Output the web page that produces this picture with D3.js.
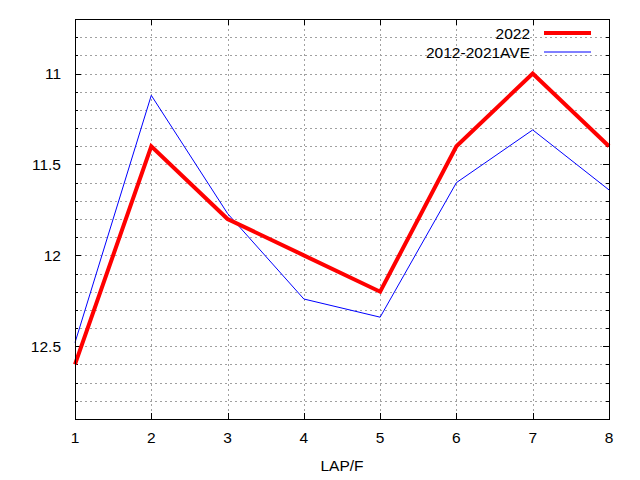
<!DOCTYPE html>
<html>
<head>
<meta charset="utf-8">
<script src="https://cdn.jsdelivr.net/npm/d3@7"></script>
<style>
  body { margin: 0; background: #fff; }
  text { font-family: "Liberation Sans", Arial, sans-serif; font-size: 15.5px; fill: #000; }
</style>
</head>
<body>
<div id="viz"></div>
<script>
// data
const laps = [1, 2, 3, 4, 5, 6, 7, 8];
const times2022 = [12.6, 11.4, 11.8, 12.0, 12.2, 11.4, 11.0, 11.4];
const timesAve = [12.48, 11.12, 11.77, 12.24, 12.34, 11.6, 11.31, 11.64];
const yTickLabels = [11, 11.5, 12, 12.5];
const seriesNames = ["2022", "2012-2021AVE"];

const W = 640, H = 480;
const margin = {top: 19, right: 31, bottom: 61, left: 75};
const width = W - margin.left - margin.right,
      height = H - margin.top - margin.bottom;

const svg = d3.select("#viz").append("svg")
  .attr("width", W).attr("height", H);
const g = svg.append("g")
  .attr("transform", "translate(" + margin.left + "," + margin.top + ")");

const x = d3.scaleLinear().domain([1, 8]).range([0, width]);
// reversed y: small values on top
const y = d3.scaleLinear().domain([10.7, 12.9]).range([0, height]);

const minorY = d3.range(108, 129).map(v => v / 10);

// grid
g.append("g").selectAll("line").data(minorY)
  .join("line")
  .attr("x1", 0).attr("x2", width)
  .attr("y1", d => Math.round(y(d)) + 0.5).attr("y2", d => Math.round(y(d)) + 0.5)
  .attr("stroke", "#a0a0a0").attr("stroke-dasharray", "2,3");
g.append("g").selectAll("line").data(laps.slice(1, -1))
  .join("line")
  .attr("x1", d => Math.round(x(d)) + 0.5).attr("x2", d => Math.round(x(d)) + 0.5)
  .attr("y1", 0).attr("y2", height)
  .attr("stroke", "#a0a0a0").attr("stroke-dasharray", "2,3");

// ticks (inward, mirrored)
const tk = g.append("g").attr("stroke", "#000");
minorY.forEach(v => {
  const major = yTickLabels.includes(v);
  const len = major ? 6 : 3;
  const yy = Math.round(y(v)) + 0.5;
  tk.append("line").attr("x1", 0).attr("x2", len).attr("y1", yy).attr("y2", yy);
  tk.append("line").attr("x1", width - len).attr("x2", width).attr("y1", yy).attr("y2", yy);
});
laps.forEach(v => {
  const xx = Math.round(x(v)) + 0.5;
  tk.append("line").attr("x1", xx).attr("x2", xx).attr("y1", height).attr("y2", height - 6);
  tk.append("line").attr("x1", xx).attr("x2", xx).attr("y1", 0).attr("y2", 6);
});

// axis labels
g.append("g").selectAll("text").data(yTickLabels).join("text")
  .attr("x", -14).attr("y", d => y(d)).attr("dy", "0.35em")
  .attr("text-anchor", "end").text(d => d);
g.append("g").selectAll("text").data(laps).join("text")
  .attr("x", d => x(d)).attr("y", height + 24)
  .attr("text-anchor", "middle").text(d => d);
g.append("text").attr("x", width / 2).attr("y", height + 52)
  .attr("text-anchor", "middle").text("LAP/F");

// lines
const line = d3.line().x((d, i) => x(laps[i])).y(d => y(d));
g.append("path").datum(timesAve)
  .attr("fill", "none").attr("stroke", "#0000ff").attr("stroke-width", 1)
  .attr("d", line);
g.append("path").datum(times2022)
  .attr("fill", "none").attr("stroke", "#ff0000").attr("stroke-width", 4)
  .attr("d", line);

// border
g.append("rect").attr("x", 0.5).attr("y", 0.5).attr("width", width).attr("height", height)
  .attr("fill", "none").attr("stroke", "#000");

// legend
const legend = svg.append("g");
const styles = [{c: "#ff0000", w: 4}, {c: "#0000ff", w: 1}];
seriesNames.forEach((name, i) => {
  const ly = 33 + i * 19;
  legend.append("text").attr("x", 530).attr("y", ly + 6)
    .attr("text-anchor", "end").text(name);
  legend.append("line").attr("x1", 544).attr("x2", 591).attr("y1", ly).attr("y2", ly)
    .attr("stroke", styles[i].c).attr("stroke-width", styles[i].w);
});
</script>
</body>
</html>
